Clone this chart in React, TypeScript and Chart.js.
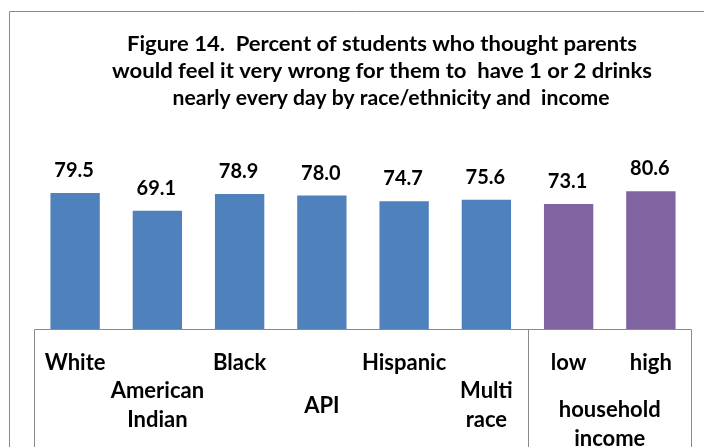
import React, { useEffect, useRef } from "react";
import { Chart, registerables } from "chart.js";

Chart.register(...registerables);

// ---- data ----
const titleLines = [
  "Figure 14.  Percent of students who thought parents",
  "would feel it very wrong for them to  have 1 or 2 drinks",
  "nearly every day by race/ethnicity and  income",
];
const categories: string[][] = [
  ["White"],
  ["American", "Indian"],
  ["Black"],
  ["API"],
  ["Hispanic"],
  ["Multi", "race"],
  ["low"],
  ["high"],
];
const values = [79.5, 69.1, 78.9, 78.0, 74.7, 75.6, 73.1, 80.6];
const groups = ["race", "race", "race", "race", "race", "race", "income", "income"];
const groupTitles: Record<string, string[]> = { income: ["household", "income"] };

// ---- styling ----
const groupColors: Record<string, string> = { race: "#4F81BD", income: "#8064A2" };
const FONT = "Lato, 'Open Sans', 'Noto Sans', sans-serif";
const LINE = "#8A8A8A";

// title lines: baseline y, centre x, rendered width
const titleLayout = [
  { y: 51, cx: 382, w: 510 },
  { y: 78, cx: 382, w: 540 },
  { y: 105, cx: 391, w: 437 },
];

function fitText(ctx: CanvasRenderingContext2D, text: string, cx: number, y: number, w: number) {
  const m = ctx.measureText(text).width;
  const sx = m > 0 ? w / m : 1;
  ctx.save();
  ctx.translate(cx, y);
  ctx.scale(sx, 1);
  ctx.textAlign = "center";
  ctx.fillText(text, 0, 0);
  ctx.restore();
}

const decorations = {
  id: "decorations",
  afterDraw(chart: any) {
    const { ctx, chartArea } = chart;
    const xs = chart.scales.x;
    const W = chart.width;
    const H = chart.height;
    ctx.save();

    // outer frame
    ctx.strokeStyle = LINE;
    ctx.lineWidth = 1;
    ctx.beginPath();
    ctx.moveTo(9.5, H);
    ctx.lineTo(9.5, 11.5);
    ctx.lineTo(W, 11.5);
    ctx.stroke();

    // title
    ctx.fillStyle = "#000";
    ctx.font = `bold 21px ${FONT}`;
    ctx.textBaseline = "alphabetic";
    titleLines.forEach((t, i) => {
      const l = titleLayout[i];
      fitText(ctx, t, l.cx, l.y, l.w);
    });

    // value labels above bars
    const meta = chart.getDatasetMeta(0);
    ctx.font = `bold 20px ${FONT}`;
    ctx.textAlign = "center";
    meta.data.forEach((bar: any, i: number) => {
      ctx.fillText(values[i].toFixed(1), bar.x - 1, bar.y - 16);
    });

    // category box
    const left = Math.round(chartArea.left) + 0.5;
    const right = Math.round(chartArea.right) - 0.5;
    const base = Math.round(chartArea.bottom) + 0.5;
    ctx.strokeStyle = LINE;
    ctx.beginPath();
    ctx.moveTo(left, H);
    ctx.lineTo(left, base);
    ctx.lineTo(right, base);
    ctx.lineTo(right, H);
    // separators between groups
    for (let i = 1; i < groups.length; i++) {
      if (groups[i] !== groups[i - 1]) {
        const sx = Math.round((xs.getPixelForValue(i - 1) + xs.getPixelForValue(i)) / 2) + 0.5;
        ctx.moveTo(sx, base);
        ctx.lineTo(sx, H);
      }
    }
    ctx.stroke();

    // category labels, staggered on two rows
    ctx.fillStyle = "#000";
    ctx.font = `bold 22px ${FONT}`;
    ctx.textAlign = "center";
    const row1 = 370;
    const row2 = 412.5;
    const lh = 29;
    let raceIdx = 0;
    categories.forEach((lines, i) => {
      const x = xs.getPixelForValue(i);
      const onSecondRow = groups[i] === "race" && raceIdx++ % 2 === 1;
      if (!onSecondRow) {
        lines.forEach((ln, k) => ctx.fillText(ln, x, row1 + k * lh));
      } else {
        lines.forEach((ln, k) => ctx.fillText(ln, x, row2 + (k - (lines.length - 1) / 2) * lh));
      }
    });

    // group titles
    const seen: Record<string, number[]> = {};
    groups.forEach((g, i) => {
      (seen[g] = seen[g] || []).push(i);
    });
    Object.keys(groupTitles).forEach((g) => {
      const idx = seen[g];
      if (!idx) return;
      const gl = (xs.getPixelForValue(idx[0]) + xs.getPixelForValue(idx[idx.length - 1])) / 2;
      groupTitles[g].forEach((ln, k) => ctx.fillText(ln, gl, 417 + k * lh));
    });

    ctx.restore();
  },
};

export default function App() {
  const ref = useRef<HTMLCanvasElement | null>(null);

  useEffect(() => {
    document.body.style.margin = "0";
    if (!ref.current) return;
    const chart = new Chart(ref.current, {
      type: "bar",
      data: {
        labels: categories.map((c) => c.join(" ")),
        datasets: [
          {
            data: values,
            backgroundColor: groups.map((g) => groupColors[g]),
            borderWidth: 0,
            barPercentage: 0.6,
            categoryPercentage: 1,
          },
        ],
      },
      options: {
        animation: false,
        responsive: false,
        maintainAspectRatio: false,
        layout: { padding: { left: 34, right: 12, top: 158, bottom: 118 } },
        plugins: {
          legend: { display: false },
          title: { display: false },
          tooltip: { enabled: false },
        },
        scales: {
          x: { display: false },
          y: { display: false, min: 0, max: 100 },
        },
      },
      plugins: [decorations],
    });
    return () => chart.destroy();
  }, []);

  return (
    <canvas
      ref={ref}
      width={704}
      height={447}
      style={{ display: "block", width: 704, height: 447, background: "#fff" }}
    />
  );
}
